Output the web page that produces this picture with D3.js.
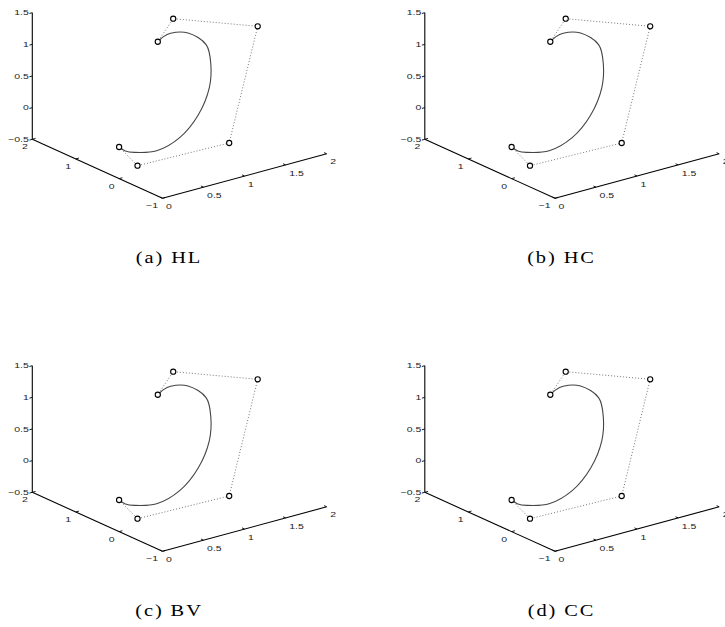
<!DOCTYPE html>
<html>
<head>
<meta charset="utf-8">
<script src="https://cdn.jsdelivr.net/npm/d3@7"></script>
<style>
  body { margin: 0; background: #fff; }
</style>
</head>
<body>
<div id="chart"></div>
<script>
// axis ticks
const xTicks = [0, 0.5, 1, 1.5, 2];
const xTickLabels = ['0', '0.5', '1', '1.5', '2'];
const yTicks = [-1, 0, 1, 2];
const yTickLabels = ['\u22121', '0', '1', '2'];
const zTicks = [-0.5, 0, 0.5, 1, 1.5];
const zTickLabels = ['\u22120.5', '0', '0.5', '1', '1.5'];

// control polygon (x, y, z)
const ctrlX = [0, 0, 1, 2, 1, 1];
const ctrlY = [0, -0.424, -0.645, 0.59, 0.645, 1];
const ctrlZ = [0, -0.164, -0.088, 1.02, 1.475, 1];

// points along the curve
const curveX = [0, 0.024, 0.090, 0.314, 0.604, 0.893, 1.125, 1.259, 1.318, 1.198, 1.072, 1.021, 1];
const curveY = [0, -0.099, -0.181, -0.271, -0.253, -0.137, 0.049, 0.268, 0.485, 0.677, 0.840, 0.917, 1];
const curveZ = [0, -0.040, -0.060, -0.086, 0.014, 0.239, 0.528, 0.780, 1.000, 1.170, 1.160, 1.096, 1];

const captions = ['(a) HL', '(b) HC', '(c) BV', '(d) CC'];

const width = 725;
const height = 627;

const svg = d3.select('#chart')
  .append('svg')
  .attr('width', width)
  .attr('height', height);

// panel placement
const panelLeft = [0, 392.5, 0, 392.5];
const panelTop = [0, 0, 353, 353];

// 3d -> screen, each axis scaled to 0..1 then laid along its direction
const sx = d3.scaleLinear().domain([0, 2]).range([0, 1]);
const sy = d3.scaleLinear().domain([-1, 2]).range([0, 1]);
const sz = d3.scaleLinear().domain([-0.5, 1.5]).range([0, 1]);
const origin = [162.5, 198.3];
const vX = [164.2, -44.5];
const vY = [-130.2, -59];
const vZ = [0, -126.6];

function project(x, y, z) {
  const a = sx(x), b = sy(y), c = sz(z);
  return [
    origin[0] + a * vX[0] + b * vY[0] + c * vZ[0],
    origin[1] + a * vX[1] + b * vY[1] + c * vZ[1],
  ];
}

const numFont = '"Liberation Sans", Arial, sans-serif';
const stretch = 1.4;

function label(g, txt, x, y, anchor) {
  g.append('text')
    .attr('transform', `translate(${x}, ${y}) scale(${stretch}, 1)`)
    .attr('text-anchor', anchor)
    .attr('dy', '0.35em')
    .attr('font-family', numFont)
    .attr('font-size', 7.5)
    .attr('fill', '#222')
    .text(txt);
}

const line = d3.line()
  .x(d => d[0])
  .y(d => d[1]);

const smooth = d3.line()
  .x(d => d[0])
  .y(d => d[1])
  .curve(d3.curveCatmullRom);

captions.forEach((cap, i) => {
  const g = svg.append('g')
    .attr('transform', `translate(${panelLeft[i]}, ${panelTop[i]})`);

  // axis lines
  const axes = [
    [project(0, -1, -0.5), project(2, -1, -0.5)],
    [project(0, -1, -0.5), project(0, 2, -0.5)],
    [project(0, 2, -0.5), project(0, 2, 1.5)],
  ];
  axes.forEach((a) => {
    g.append('path')
      .attr('d', line(a))
      .attr('fill', 'none')
      .attr('stroke', '#000')
      .attr('stroke-width', 1.1);
  });

  // x ticks
  xTicks.forEach((t, k) => {
    const p = project(t, -1, -0.5);
    const q = project(t, -0.94, -0.5);
    g.append('path').attr('d', line([p, q])).attr('stroke', '#000').attr('stroke-width', 0.9);
    label(g, xTickLabels[k], p[0] + 3.5, p[1] + 8, 'start');
  });

  // y ticks
  yTicks.forEach((t, k) => {
    const p = project(0, t, -0.5);
    const q = project(0.04, t, -0.5);
    g.append('path').attr('d', line([p, q])).attr('stroke', '#000').attr('stroke-width', 0.9);
    label(g, yTickLabels[k], p[0] - 4.5, p[1] + 7.5, 'end');
  });

  // z ticks
  zTicks.forEach((t, k) => {
    const p = project(0, 2, t);
    const q = project(-0.035, 2, t);
    g.append('path').attr('d', line([p, q])).attr('stroke', '#000').attr('stroke-width', 0.9);
    label(g, zTickLabels[k], p[0] - 3.5, p[1], 'end');
  });

  // control polygon
  const ctrl = ctrlX.map((x, k) => project(x, ctrlY[k], ctrlZ[k]));
  g.append('path')
    .attr('d', line(ctrl))
    .attr('fill', 'none')
    .attr('stroke', '#777')
    .attr('stroke-width', 1)
    .attr('stroke-dasharray', '1,2');

  // curve
  const pts = curveX.map((x, k) => project(x, curveY[k], curveZ[k]));
  g.append('path')
    .attr('d', smooth(pts))
    .attr('fill', 'none')
    .attr('stroke', '#444')
    .attr('stroke-width', 1.1);

  g.selectAll('circle')
    .data(ctrl)
    .join('circle')
    .attr('cx', d => d[0])
    .attr('cy', d => d[1])
    .attr('r', 2.6)
    .attr('fill', '#fff')
    .attr('stroke', '#000')
    .attr('stroke-width', 1.1);

  g.append('text')
    .attr('transform', 'translate(169, 262.7) scale(1.2, 1)')
    .attr('text-anchor', 'middle')
    .attr('font-family', '"Liberation Serif", "Times New Roman", serif')
    .attr('font-size', 17)
    .attr('letter-spacing', 1.6)
    .attr('fill', '#000')
    .text(cap);
});
</script>
</body>
</html>
